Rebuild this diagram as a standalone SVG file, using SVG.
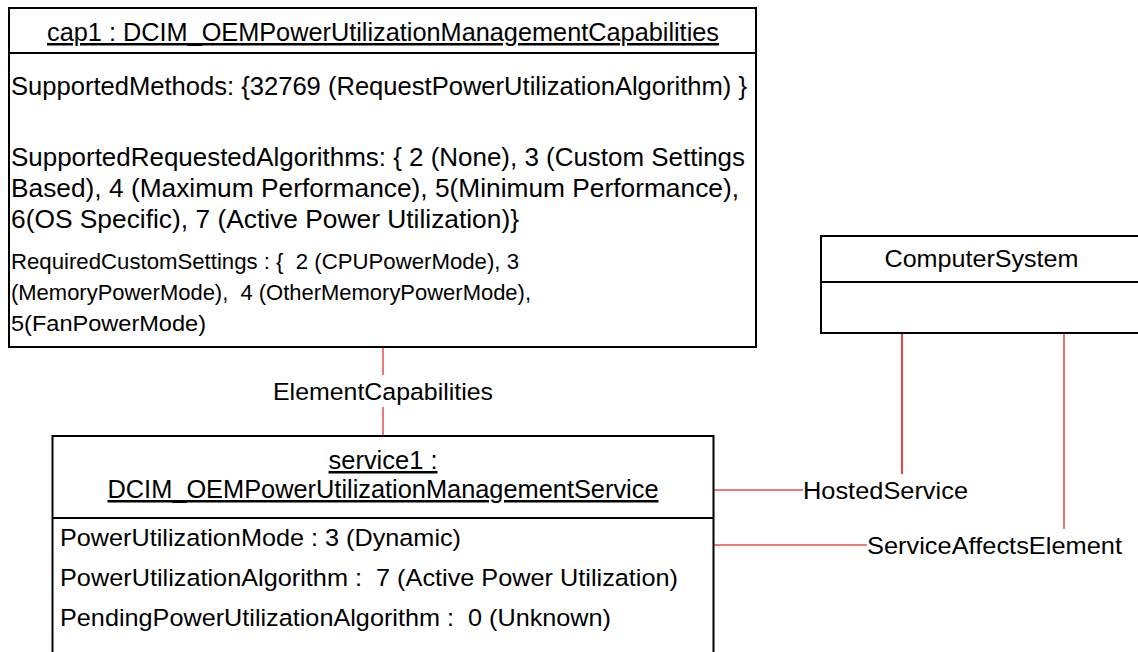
<svg xmlns="http://www.w3.org/2000/svg" width="1138" height="652" viewBox="0 0 1138 652">
<style>
text{font-family:"Liberation Sans",Arial,sans-serif;font-size:24.5px;fill:#000;white-space:pre}
.t{font-size:25px}
.s{font-size:22.5px}
.u{text-decoration:underline}
.m{text-anchor:middle}
.box{fill:#fff;stroke:#000;stroke-width:2}
.sep{stroke:#000;stroke-width:2}
.c{stroke:#f47676;stroke-width:2;fill:none}
.c2{stroke:#ee1111;stroke-width:1.6;fill:none}
</style>
<rect width="1138" height="652" fill="#fff"/>
<g id="connectors">
<line class="c" x1="383" y1="347" x2="383" y2="375"/>
<line class="c" x1="383" y1="407" x2="383" y2="436"/>
<text class="m" x="383" y="400" textLength="220" lengthAdjust="spacingAndGlyphs">ElementCapabilities</text>
<line class="c" x1="714" y1="490" x2="803" y2="490"/>
<line class="c2" x1="902" y1="333" x2="902" y2="474"/>
<text x="803" y="499" textLength="165" lengthAdjust="spacingAndGlyphs">HostedService</text>
<line class="c" x1="714" y1="545" x2="867" y2="545"/>
<line class="c" x1="1064" y1="333" x2="1064" y2="529"/>
<text x="867" y="554" textLength="255" lengthAdjust="spacingAndGlyphs">ServiceAffectsElement</text>
</g>
<g id="cap1">
<rect class="box" x="9" y="8" width="747" height="339"/>
<line class="sep" x1="9" y1="53" x2="756" y2="53"/>
<text class="t m u" x="383" y="41" textLength="672" lengthAdjust="spacingAndGlyphs">cap1 : DCIM_OEMPowerUtilizationManagementCapabilities</text>
<text class="t" x="11" y="95" textLength="736" lengthAdjust="spacingAndGlyphs">SupportedMethods: {32769 (RequestPowerUtilizationAlgorithm) }</text>
<text class="t" x="11" y="166" textLength="734" lengthAdjust="spacingAndGlyphs">SupportedRequestedAlgorithms: { 2 (None), 3 (Custom Settings</text>
<text class="t" x="11" y="197" textLength="728" lengthAdjust="spacingAndGlyphs">Based), 4 (Maximum Performance), 5(Minimum Performance),</text>
<text class="t" x="11" y="228" textLength="508" lengthAdjust="spacingAndGlyphs">6(OS Specific), 7 (Active Power Utilization)}</text>
<text class="s" x="11" y="269" textLength="508" lengthAdjust="spacingAndGlyphs">RequiredCustomSettings : {  2 (CPUPowerMode), 3</text>
<text class="s" x="11" y="300" textLength="520" lengthAdjust="spacingAndGlyphs">(MemoryPowerMode),  4 (OtherMemoryPowerMode),</text>
<text class="s" x="11" y="331" textLength="195" lengthAdjust="spacingAndGlyphs">5(FanPowerMode)</text>
</g>
<g id="service1">
<path class="box" d="M52.5,660 V436 H713.5 V660"/>
<line class="sep" x1="52.5" y1="518" x2="713.5" y2="518"/>
<text class="t m u" x="383" y="469" textLength="109" lengthAdjust="spacingAndGlyphs">service1 :</text>
<text class="t m u" x="383" y="498" textLength="551" lengthAdjust="spacingAndGlyphs">DCIM_OEMPowerUtilizationManagementService</text>
<text x="60" y="546" textLength="401" lengthAdjust="spacingAndGlyphs">PowerUtilizationMode : 3 (Dynamic)</text>
<text x="60" y="586" textLength="618" lengthAdjust="spacingAndGlyphs">PowerUtilizationAlgorithm :  7 (Active Power Utilization)</text>
<text x="60" y="626" textLength="551" lengthAdjust="spacingAndGlyphs">PendingPowerUtilizationAlgorithm :  0 (Unknown)</text>
</g>
<g id="computersystem">
<rect class="box" x="821" y="236" width="330" height="97"/>
<line class="sep" x1="821" y1="282" x2="1150" y2="282"/>
<text class="m" x="981.5" y="267" textLength="194" lengthAdjust="spacingAndGlyphs">ComputerSystem</text>
</g>
</svg>
